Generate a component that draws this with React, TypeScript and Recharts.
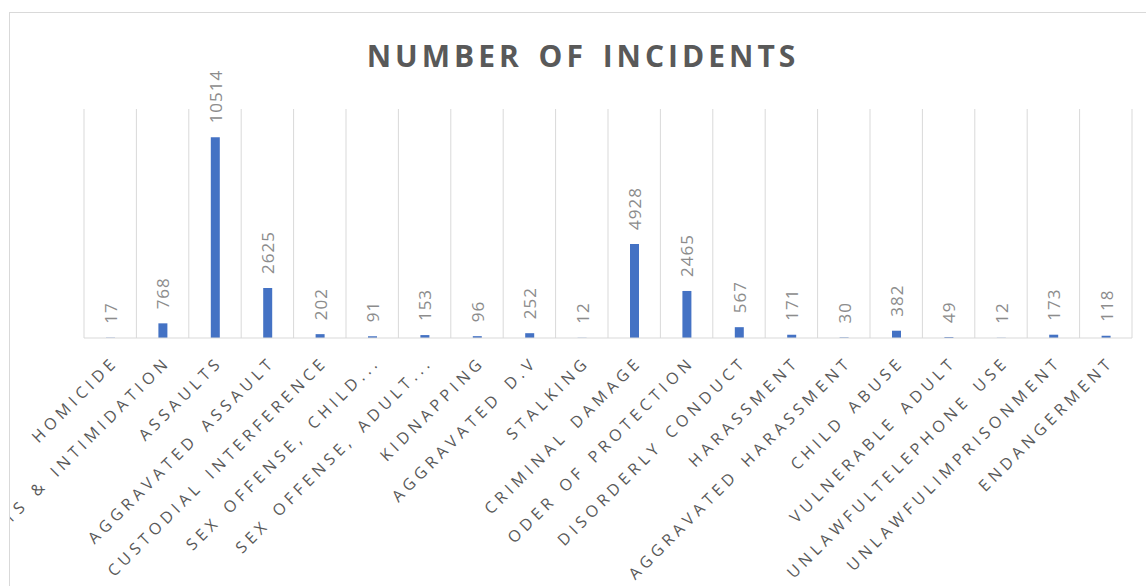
import { Bar, BarChart, CartesianGrid, LabelList, XAxis, YAxis } from 'recharts';

const categories = [
  'HOMICIDE',
  'THREATS & INTIMIDATION',
  'ASSAULTS',
  'AGGRAVATED ASSAULT',
  'CUSTODIAL INTERFERENCE',
  'SEX OFFENSE, CHILD...',
  'SEX OFFENSE, ADULT...',
  'KIDNAPPING',
  'AGGRAVATED D.V',
  'STALKING',
  'CRIMINAL DAMAGE',
  'ODER OF PROTECTION',
  'DISORDERLY CONDUCT',
  'HARASSMENT',
  'AGGRAVATED HARASSMENT',
  'CHILD ABUSE',
  'VULNERABLE ADULT',
  'UNLAWFULTELEPHONE USE',
  'UNLAWFULIMPRISONMENT',
  'ENDANGERMENT',
];

const incidents = [17, 768, 10514, 2625, 202, 91, 153, 96, 252, 12, 4928, 2465, 567, 171, 30, 382, 49, 12, 173, 118];

const yDomain = [0, 12000];

const data = categories.map((name, i) => ({ name, value: incidents[i] }));

const FONT = '"Open Sans", "Noto Sans", sans-serif';

function CategoryTick({ x, y, payload }: any) {
  const tx = x + 9;
  const ty = y + 25;
  return (
    <text
      x={tx}
      y={ty}
      transform={`rotate(-45, ${tx}, ${ty})`}
      textAnchor="end"
      fontFamily={FONT}
      fontSize={16}
      letterSpacing={4.5}
      wordSpacing={3}
      fill="#595959"
    >
      {payload.value}
    </text>
  );
}

function ValueLabel({ x, y, width, value }: any) {
  const cx = x + width / 2;
  const cy = y - 14;
  return (
    <text
      x={cx}
      y={cy}
      transform={`rotate(-90, ${cx}, ${cy})`}
      textAnchor="start"
      dominantBaseline="central"
      fontFamily={FONT}
      fontSize={17}
      letterSpacing={1}
      fill="#8c8c8c"
    >
      {value}
    </text>
  );
}

export default function App() {
  return (
    <div style={{ position: 'fixed', inset: 0, overflow: 'hidden', background: '#fff' }}>
      <div
        style={{
          position: 'absolute',
          left: 9,
          top: 12,
          width: 1160,
          height: 600,
          border: '1px solid #d9d9d9',
          overflow: 'hidden',
        }}
      >
        <div
          style={{
            position: 'absolute',
            left: 0,
            top: 28,
            width: 1146,
            textAlign: 'center',
            fontFamily: FONT,
            fontWeight: 700,
            fontSize: 30,
            lineHeight: '30px',
            letterSpacing: 4,
            wordSpacing: 4,
            color: '#595959',
          }}
        >
          NUMBER OF INCIDENTS
        </div>
        <div style={{ position: 'absolute', left: 0, top: 0 }}>
          <BarChart
            width={1150}
            height={600}
            data={data}
            margin={{ top: 96, left: 74, right: 28, bottom: 5 }}
          >
            <CartesianGrid
              horizontal={false}
              stroke="#d9d9d9"
              verticalCoordinatesGenerator={({ offset }: any) =>
                categories.map((_, i) => offset.left + (i * offset.width) / categories.length).concat(offset.left + offset.width)
              }
            />
            <XAxis
              dataKey="name"
              interval={0}
              height={270}
              axisLine={{ stroke: '#d9d9d9' }}
              tickLine={false}
              tickSize={0}
              tickMargin={0}
              tick={<CategoryTick />}
            />
            <YAxis hide width={0} domain={yDomain} />
            <Bar dataKey="value" fill="#4472c4" barSize={9} isAnimationActive={false}>
              <LabelList dataKey="value" content={<ValueLabel />} />
            </Bar>
          </BarChart>
        </div>
      </div>
    </div>
  );
}
